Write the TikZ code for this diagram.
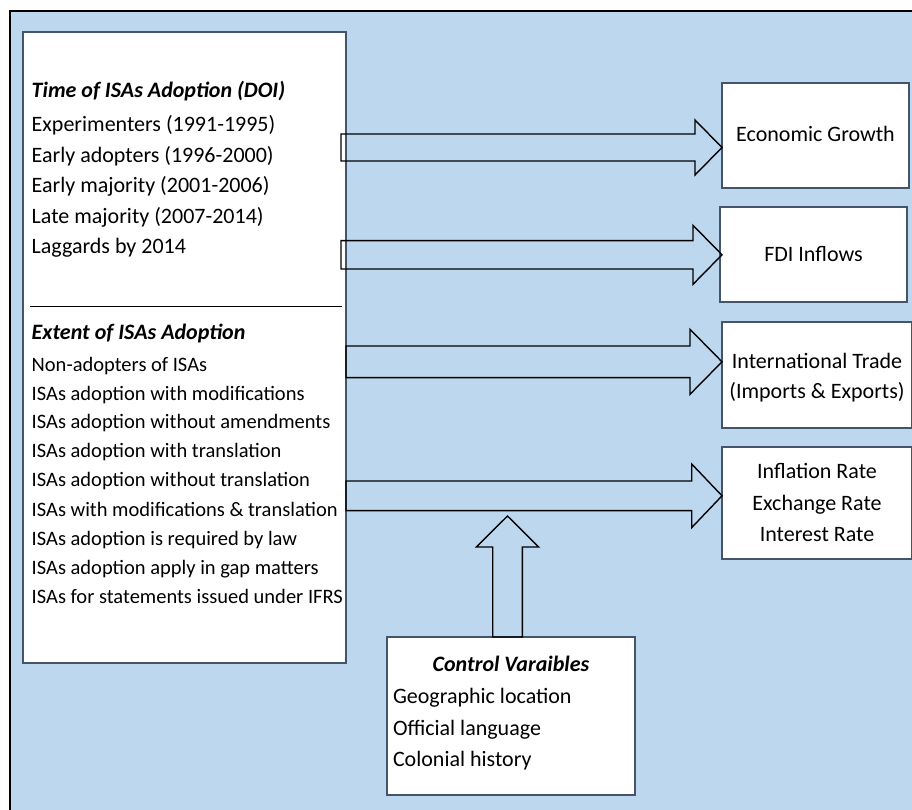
\documentclass[tikz,border=0pt]{standalone}
\usepackage{fontspec}
\setmainfont{Carlito}
\usetikzlibrary{calc}
\definecolor{bgblue}{RGB}{189,215,238}
\definecolor{boxline}{RGB}{68,84,106}
\tikzset{
  box/.style={draw=boxline, line width=1.4pt, fill=white, rectangle, inner sep=0pt, outer sep=0pt, anchor=north west},
  blockarr/.style={draw=black, line width=1.4pt, line join=miter},
  bigtxt/.style={inner sep=0pt, outer sep=0pt, font=\fontsize{22}{26}\selectfont},
  smalltxt/.style={inner sep=0pt, outer sep=0pt, font=\fontsize{20.5}{24}\selectfont},
  ttl/.style={inner sep=0pt, outer sep=0pt, font=\fontsize{22}{26}\selectfont\bfseries\itshape},
}
% right-pointing block arrow: tail coord, tip coord, shaft half width, head half width, head length
\newcommand\blkarrowR[5]{\draw[blockarr] let \p1=(#1),\p2=(#2) in
  ({\x1},{\y2+#3}) -- ({\x2-#5},{\y2+#3}) -- ({\x2-#5},{\y2+#4}) -- (\p2) --
  ({\x2-#5},{\y2-#4}) -- ({\x2-#5},{\y2-#3}) -- ({\x1},{\y2-#3}) -- cycle;}
% upward block arrow
\newcommand\blkarrowU[5]{\draw[blockarr] let \p1=(#1),\p2=(#2) in
  ({\x2-#3},{\y1}) -- ({\x2-#3},{\y2-#5}) -- ({\x2-#4},{\y2-#5}) -- (\p2) --
  ({\x2+#4},{\y2-#5}) -- ({\x2+#3},{\y2-#5}) -- ({\x2+#3},{\y1}) -- cycle;}
\begin{document}
\begin{tikzpicture}[x=1pt,y=-1pt]
\useasboundingbox (0,0) rectangle (912,809);
\clip (0,0) rectangle (912,809);
% background panel
\draw[fill=bgblue, draw=black, line width=1.6pt] (10,11) rectangle (930,830);

% boxes
\node[box, minimum width=323pt, minimum height=631pt] (left) at (23,32) {};
\node[box, minimum width=187pt, minimum height=105pt] (eg) at (722,83) {};
\node[box, minimum width=187pt, minimum height=95pt] (fdi) at (720,207) {};
\node[box, minimum width=190pt, minimum height=106pt] (it) at (722,322) {};
\node[box, minimum width=190pt, minimum height=112pt] (ir) at (722,447) {};
\node[box, minimum width=248pt, minimum height=158pt] (cv) at (387,637) {};

% separator
\coordinate (sepL) at (30,306);
\coordinate (sepR) at (342,306);
\draw[black, line width=0.8pt] (sepL) -- (sepR);

% left box, group 1
\node[ttl, anchor=base west] (g1t) at (31.7,97.3) {Time of ISAs Adoption (DOI)};
\foreach \yy/\tt [count=\i] in {131/Experimenters (1991-1995), 162.3/Early adopters (1996-2000),
  192.3/Early majority (2001-2006), 223.3/Late majority (2007-2014), 253.3/Laggards by 2014}
  \node[bigtxt, anchor=base west] (g1-\i) at (31.7,\yy) {\tt};

% left box, group 2
\node[ttl, anchor=base west] (g2t) at (31.7,339.3) {Extent of ISAs Adoption};
\foreach \yy/\tt [count=\i] in {371.7/Non-adopters of ISAs, 400.4/ISAs adoption with modifications,
  428.9/ISAs adoption without amendments, 457.5/ISAs adoption with translation,
  486.7/ISAs adoption without translation, 516/ISAs with modifications \& translation,
  545/ISAs adoption is required by law, 574.2/ISAs adoption apply in gap matters,
  603.3/ISAs for statements issued under IFRS}
  \node[smalltxt, anchor=base west] (g2-\i) at (31.7,\yy) {\tt};

% right boxes text
\node[bigtxt, anchor=base] (egt) at (815.5,141.7) {Economic Growth};
\node[bigtxt, anchor=base] (fdit) at (813.5,261.7) {FDI Inflows};
\node[bigtxt, anchor=base] (it1) at (817,368.3) {International Trade};
\node[bigtxt, anchor=base] (it2) at (817,398.6) {(Imports \& Exports)};
\node[bigtxt, anchor=base] (ir1) at (817,478.3) {Inflation Rate};
\node[bigtxt, anchor=base] (ir2) at (817,510) {Exchange Rate};
\node[bigtxt, anchor=base] (ir3) at (817,541.7) {Interest Rate};

% control variables text
\node[ttl, anchor=base] (cvt) at (511,671.7) {Control Varaibles};
\node[bigtxt, anchor=base west] (cv1) at (393,703.3) {Geographic location};
\node[bigtxt, anchor=base west] (cv2) at (393,735) {Official language};
\node[bigtxt, anchor=base west] (cv3) at (393,766.7) {Colonial history};

% arrow end points
\coordinate (a1s) at (341,147.5);
\coordinate (a1e) at (eg.west |- 0,147.5);
\coordinate (a2s) at (341,254.8);
\coordinate (a2e) at (722,254.8);
\coordinate (a3s) at (left.east |- 0,361.8);
\coordinate (a3e) at (it.west |- 0,361.8);
\coordinate (a4s) at (left.east |- 0,495.8);
\coordinate (a4e) at (ir.west |- 0,495.8);
\coordinate (a5s) at (507.5,637);
\coordinate (a5e) at (507.5,516);

\blkarrowR{a1s}{a1e}{13.5pt}{27.5pt}{27pt}
\blkarrowR{a2s}{a2e}{14.2pt}{29.5pt}{29pt}
\blkarrowR{a3s}{a3e}{15.8pt}{32.5pt}{32pt}
\blkarrowR{a4s}{a4e}{14.8pt}{31.8pt}{30.3pt}
\blkarrowU{a5s}{a5e}{14.8pt}{31.2pt}{31pt}
\end{tikzpicture}
\end{document}
